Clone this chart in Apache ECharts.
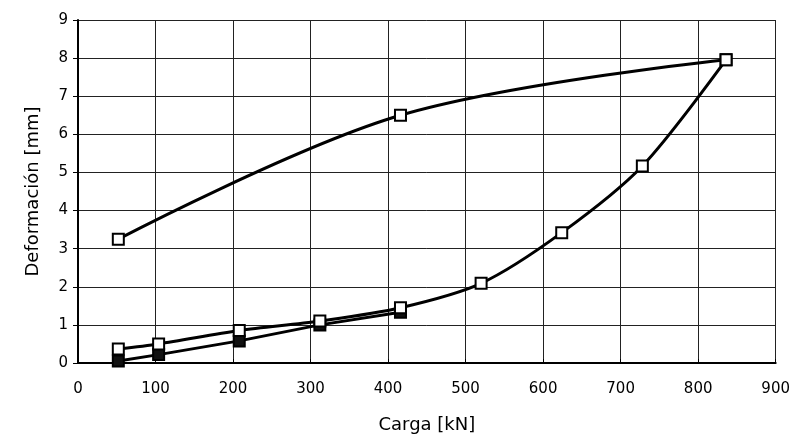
<!DOCTYPE html>
<html>
<head>
<meta charset="utf-8">
<script src="https://cdn.jsdelivr.net/npm/echarts@6/dist/echarts.min.js"></script>
<style>
  html, body { margin: 0; padding: 0; background: #fff; }
  #chart { width: 793px; height: 439px; }
</style>
</head>
<body>
<div id="chart"></div>
<script>
// cargas [kN]
const cargaBaja = [52, 104, 208, 312, 416];
const deformBaja = [0.05, 0.22, 0.58, 1.0, 1.33];

const cargaCarga = [52, 104, 208, 312, 416, 520, 624, 728, 836];
const deformCarga = [0.37, 0.5, 0.85, 1.1, 1.45, 2.09, 3.42, 5.17, 7.96];

const cargaDescarga = [836, 416, 52];
const deformDescarga = [7.96, 6.5, 3.25];

const xTicks = [0, 100, 200, 300, 400, 500, 600, 700, 800, 900];
const yTicks = [0, 1, 2, 3, 4, 5, 6, 7, 8, 9];

function pares(xs, ys) {
  return xs.map((x, i) => [x, ys[i]]);
}

const chart = echarts.init(document.getElementById('chart'));

const marca = {
  type: 'line',
  symbol: 'rect',
  symbolSize: 11,
  lineStyle: { color: '#000', width: 3 },
  itemStyle: { color: '#fff', borderColor: '#000', borderWidth: 2 },
  animation: false
};

chart.setOption({
  backgroundColor: '#fff',
  textStyle: { fontFamily: 'DejaVu Sans' },
  grid: { left: 78, right: 17, top: 20, bottom: 75 },
  xAxis: {
    type: 'value',
    min: xTicks[0],
    max: xTicks[xTicks.length - 1],
    interval: 100,
    name: 'Carga [kN]',
    nameLocation: 'middle',
    nameGap: 53,
    nameTextStyle: { color: '#000', fontSize: 18 },
    axisLine: { show: true, lineStyle: { color: '#000', width: 2 } },
    axisTick: { show: true, inside: true, length: 4, lineStyle: { color: '#000' } },
    axisLabel: { color: '#000', fontSize: 15, margin: 19 },
    splitLine: { show: true, lineStyle: { color: '#222', width: 1 } }
  },
  yAxis: {
    type: 'value',
    min: yTicks[0],
    max: yTicks[yTicks.length - 1],
    interval: 1,
    name: 'Deformación [mm]',
    nameLocation: 'middle',
    nameGap: 36,
    nameTextStyle: { color: '#000', fontSize: 18 },
    axisLine: { show: true, lineStyle: { color: '#000', width: 2 } },
    axisTick: { show: true, length: 5, lineStyle: { color: '#000' } },
    axisLabel: { color: '#000', fontSize: 15, margin: 10 },
    splitLine: { show: true, lineStyle: { color: '#222', width: 1 } }
  },
  series: [
    Object.assign({}, marca, {
      name: 'ciclo 1',
      data: pares(cargaBaja, deformBaja),
      itemStyle: { color: '#111', borderColor: '#000', borderWidth: 2 }
    }),
    Object.assign({}, marca, {
      name: 'carga',
      smooth: 0.3,
      data: pares(cargaCarga, deformCarga)
    }),
    Object.assign({}, marca, {
      name: 'descarga',
      smooth: 0.35,
      data: pares(cargaDescarga, deformDescarga)
    })
  ]
});
</script>
</body>
</html>
